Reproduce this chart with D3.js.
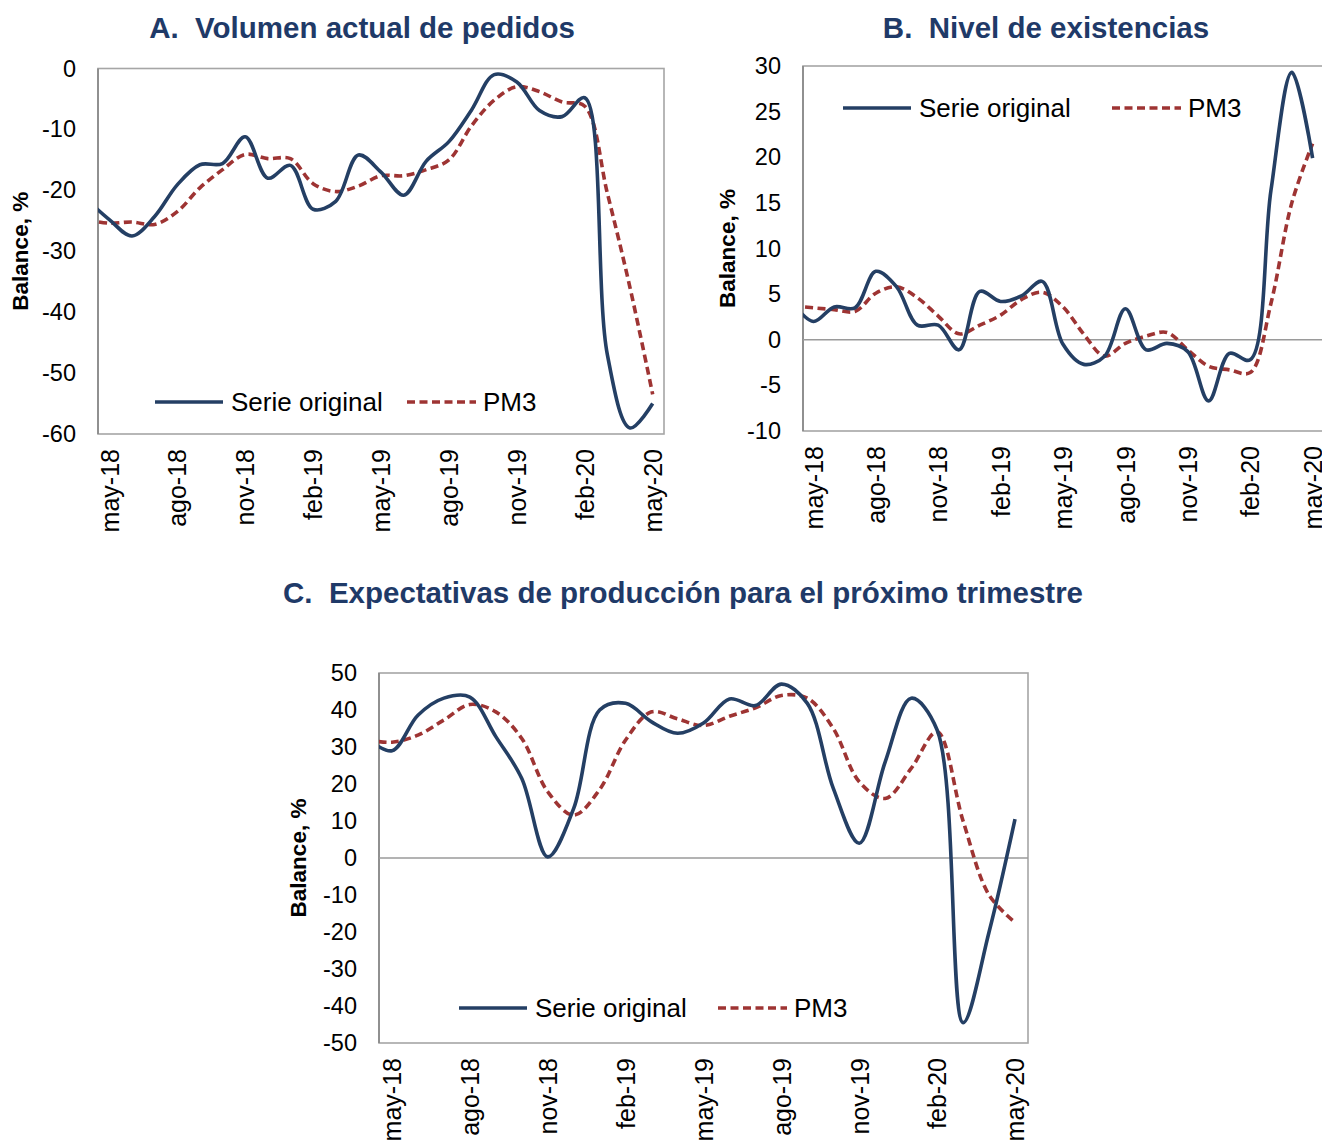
<!DOCTYPE html>
<html><head><meta charset="utf-8">
<script src="https://cdn.jsdelivr.net/npm/d3@7"></script>
<style>
html,body{margin:0;padding:0;background:#fff;}
svg{display:block;font-family:"Liberation Sans",Arial,sans-serif;}
</style></head>
<body>
<svg id="chart" width="1322" height="1142"></svg>
<script>
// Months: index 0 = abr-18 (just before the visible axis start), index 1 = may-18 ... index 25 = may-20
const months = ["abr-18","may-18","jun-18","jul-18","ago-18","sep-18","oct-18","nov-18","dic-18","ene-19","feb-19","mar-19","abr-19","may-19","jun-19","jul-19","ago-19","sep-19","oct-19","nov-19","dic-19","ene-20","feb-20","mar-20","abr-20","may-20"];
const tickLabels = ["may-18","ago-18","nov-18","feb-19","may-19","ago-19","nov-19","feb-20","may-20"];

// A. Volumen actual de pedidos
const serieA = [-21.5,-24.8,-27.5,-24.3,-19.1,-15.8,-15.6,-11.2,-18.0,-15.9,-23.1,-21.8,-14.2,-17.0,-20.8,-15.2,-12.0,-6.8,-1.0,-2.2,-6.9,-7.9,-4.8,-47.0,-59.0,-55.0];
const pm3A   = [-24.8,-25.4,-25.2,-25.6,-23.5,-19.6,-16.6,-14.1,-14.8,-14.8,-18.9,-20.2,-19.3,-17.6,-17.6,-16.6,-15.0,-9.4,-5.2,-3.0,-3.8,-5.5,-6.2,-20.5,-36.0,-53.5];
const ticksA = [0,-10,-20,-30,-40,-50,-60];

// B. Nivel de existencias
const serieB = [4.0,2.0,3.6,3.5,7.5,5.8,1.6,1.6,-1.1,5.3,4.2,4.8,6.4,-0.5,-2.7,-1.8,3.4,-1.1,-0.4,-1.3,-6.7,-1.5,-2.2,16.4,29.3,19.9];
const pm3B   = [3.7,3.5,3.3,3.1,5.1,5.8,4.6,2.6,0.65,1.6,2.7,4.4,5.2,3.6,0.6,-1.8,-0.4,0.4,0.8,-1.1,-2.9,-3.3,-3.6,4.0,15.0,21.5];
const ticksB = [30,25,20,15,10,5,0,-5,-10];

// C. Expectativas de producción para el próximo trimestre
const serieC = [32.5,29.0,38.6,43.2,43.5,32.8,21.5,0.3,13.4,40.0,41.8,36.8,33.7,36.5,43.0,41.2,47.0,41.8,18.8,4.0,26.0,43.2,34.6,-44.5,-20.0,10.5];
const pm3C   = [32.0,31.3,33.2,37.3,41.5,39.5,32.3,17.9,11.6,18.5,31.9,39.5,37.6,35.8,38.3,40.6,43.9,43.2,35.0,20.6,16.1,24.2,34.1,10.0,-10.0,-17.4];
const ticksC = [50,40,30,20,10,0,-10,-20,-30,-40,-50];

const seriesNames = ["Serie original","PM3"];
const navy = "#243f64", red = "#9e3433", titleColor = "#1f3a68";

const svg = d3.select("#chart");

function panel(cfg){
  const g = svg.append("g");
  const x = d3.scaleLinear().domain([0.5, months.length - 0.5]).range([cfg.left, cfg.right]);
  const y = d3.scaleLinear().domain(cfg.domain).range([cfg.bottom, cfg.top]);

  // title
  g.append("text").attr("x", cfg.titleX).attr("y", cfg.titleY)
    .attr("text-anchor","middle").attr("font-weight","bold").attr("font-size",29.5)
    .attr("fill", titleColor).style("white-space","pre").text(cfg.title);

  // plot frame
  g.append("rect").attr("x", cfg.left).attr("y", cfg.top)
    .attr("width", cfg.right - cfg.left).attr("height", cfg.bottom - cfg.top)
    .attr("fill","none").attr("stroke","#a6a6a6").attr("stroke-width",1.6);
  g.append("line").attr("x1",cfg.left).attr("x2",cfg.left).attr("y1",cfg.top).attr("y2",cfg.bottom)
    .attr("stroke","#8c8c8c").attr("stroke-width",1.8);

  // zero line
  if (cfg.domain[0] < 0 && cfg.domain[1] > 0) {
    g.append("line").attr("x1",cfg.left).attr("x2",cfg.right)
      .attr("y1",y(0)).attr("y2",y(0)).attr("stroke","#9a9a9a").attr("stroke-width",1.6);
  }

  // y axis
  const ya = g.append("g").attr("transform",`translate(${cfg.left},0)`)
    .call(d3.axisLeft(y).tickValues(cfg.ticks).tickSize(0).tickPadding(22).tickFormat(d => String(d)));
  ya.select(".domain").remove();
  ya.selectAll("text").attr("font-size",23.5).attr("fill","#000")
    .attr("font-family","'Liberation Sans',Arial,sans-serif");

  // x axis labels (rotated)
  const tickIdx = tickLabels.map(l => months.indexOf(l));
  const xa = g.append("g").attr("transform",`translate(0,${cfg.bottom})`)
    .call(d3.axisBottom(x).tickValues(tickIdx).tickSize(0).tickFormat(i => months[i]));
  xa.select(".domain").remove();
  xa.selectAll("text").attr("font-size",25).attr("fill","#000")
    .attr("font-family","'Liberation Sans',Arial,sans-serif")
    .attr("transform","rotate(-90)").attr("text-anchor","end")
    .attr("x",-15).attr("y",0).attr("dy","0.35em");

  // y axis title
  g.append("text").attr("transform",`translate(${cfg.ytX},${(cfg.top+cfg.bottom)/2}) rotate(-90)`)
    .attr("text-anchor","middle").attr("font-weight","bold").attr("font-size",22.5)
    .attr("fill","#000").text("Balance, %");

  // clip
  const cid = "clip" + cfg.id;
  svg.append("clipPath").attr("id",cid).append("rect")
    .attr("x",cfg.left).attr("y",cfg.top - 20).attr("width",cfg.right - cfg.left).attr("height",cfg.bottom - cfg.top + 40);

  const line = d3.line().x((d,i) => x(i)).y(d => y(d)).curve(d3.curveCatmullRom.alpha(0.5));
  const lg = g.append("g").attr("clip-path",`url(#${cid})`);
  lg.append("path").datum(cfg.pm3).attr("d",line).attr("fill","none")
    .attr("stroke",red).attr("stroke-width",3.6).attr("stroke-dasharray","8,4.5");
  lg.append("path").datum(cfg.serie).attr("d",line).attr("fill","none")
    .attr("stroke",navy).attr("stroke-width",3.6).attr("stroke-linejoin","round");

  // legend
  const L = cfg.legend;
  g.append("line").attr("x1",L.x1).attr("x2",L.x1+68).attr("y1",L.y).attr("y2",L.y)
    .attr("stroke",navy).attr("stroke-width",3.6);
  g.append("text").attr("x",L.x1+76).attr("y",L.y+9).attr("font-size",26).attr("fill","#000").text(seriesNames[0]);
  g.append("line").attr("x1",L.x2).attr("x2",L.x2+69).attr("y1",L.y).attr("y2",L.y)
    .attr("stroke",red).attr("stroke-width",3.6).attr("stroke-dasharray","8,4.5");
  g.append("text").attr("x",L.x2+76).attr("y",L.y+9).attr("font-size",26).attr("fill","#000").text(seriesNames[1]);
}

panel({id:"A", title:"A.  Volumen actual de pedidos", titleX:362, titleY:38,
  left:98, right:664, top:68.5, bottom:434, domain:[-60,0], ticks:ticksA,
  serie:serieA, pm3:pm3A, ytX:28, legend:{x1:155, x2:407, y:402}});

panel({id:"B", title:"B.  Nivel de existencias", titleX:1046, titleY:38,
  left:803, right:1323, top:66, bottom:431, domain:[-10,30], ticks:ticksB,
  serie:serieB, pm3:pm3B, ytX:735, legend:{x1:843, x2:1112, y:108}});

panel({id:"C", title:"C.  Expectativas de producción para el próximo trimestre", titleX:683, titleY:603,
  left:379, right:1028, top:673, bottom:1043, domain:[-50,50], ticks:ticksC,
  serie:serieC, pm3:pm3C, ytX:306, legend:{x1:459, x2:718, y:1008}});
</script>
</body></html>
